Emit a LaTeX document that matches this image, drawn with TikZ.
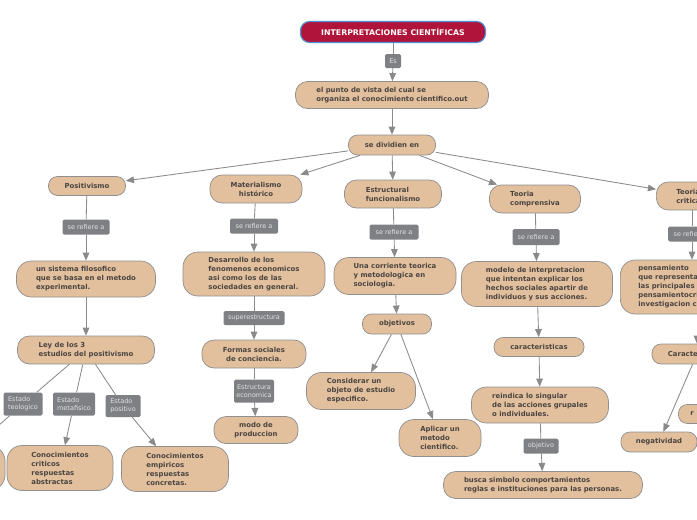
\documentclass[tikz,border=0pt]{standalone}
\usepackage{fontspec}
\setmainfont{DejaVu Sans}
\usepackage{tikz}
\usetikzlibrary{arrows, positioning, calc}

\definecolor{conceptfill}{HTML}{E2BF9D}
\definecolor{conceptline}{HTML}{8F8F8F}
\definecolor{concepttext}{HTML}{4A4541}
\definecolor{linkfill}{HTML}{7F8084}
\definecolor{linktext}{HTML}{E2E2E2}
\definecolor{connline}{HTML}{8A8A8A}
\definecolor{titlefill}{HTML}{B0143A}
\definecolor{titleline}{HTML}{4A90D9}

\newcommand{\conceptfont}{\fontsize{6.9}{9}\selectfont\bfseries}
\newcommand{\linkfont}{\fontsize{6.5}{8.4}\selectfont}
\newcommand{\headfont}{\fontsize{7.8}{9}\selectfont\bfseries}

\tikzset{
  concept/.style={draw=conceptline, fill=conceptfill, text=concepttext, font=\conceptfont, line width=0.7pt, rounded corners=9pt, align=left, inner sep=2pt},
  tall/.style={rounded corners=15pt},
  linklabel/.style={fill=linkfill, text=linktext, font=\linkfont, rounded corners=1.5pt, inner sep=1.5pt, align=left},
  headline/.style={draw=titleline, fill=titlefill, text=white, font=\headfont, line width=1.1pt, rounded corners=9pt},
  conn/.style={draw=connline, line width=0.85pt}
}

\begin{document}
\begin{tikzpicture}[x=1pt, y=-1pt, >=triangle 45]
  \useasboundingbox (0,0) rectangle (697,520);
  \clip (0,0) rectangle (697,520);

  \node[headline, minimum width=185, minimum height=21] (titulo) at (393,32) {INTERPRETACIONES CIENTÍFICAS};
  \node[linklabel, minimum width=16, minimum height=14, align=center] (es) at (393,61) {Es};
  \node[concept, minimum width=193, minimum height=27, rounded corners=12pt] (punto) at (392,95) {el punto de vista del cual se\\organiza el conocimiento cientifico.out};
  \node[concept, minimum width=87, minimum height=20, align=center] (divide) at (392,145) {se dividien en};

  \node[concept, minimum width=77, minimum height=19, align=center] (positivismo) at (87,186) {Positivismo};
  \node[concept, minimum width=92, minimum height=28, align=center, rounded corners=12pt] (materialismo) at (256,189) {Materialismo\\histórico};
  \node[concept, minimum width=97, minimum height=28, rounded corners=12pt] (estructural) at (393,194) {Estructural\\funcionalismo};
  \node[concept, minimum width=91, minimum height=28, rounded corners=12pt] (comprensiva) at (535,199) {Teoria\\comprensiva};
  \node[concept, anchor=west, minimum height=28, text width=40, inner xsep=20, rounded corners=12pt] (critica) at (656,196) {Teoria\\critica};

  \node[linklabel, minimum width=47, minimum height=15, align=center] (refpos) at (86,227) {se refiere a};
  \node[concept, tall, minimum width=139, minimum height=36] (sistema) at (86,279) {un sistema filosofico\\que se basa en el metodo\\experimental.};
  \node[concept, minimum width=137, minimum height=28, rounded corners=12pt] (ley) at (86,350) {Ley de los 3\\estudios del positivismo};
  \node[linklabel, minimum width=39, minimum height=23] (teologico) at (23,404) {Estado\\teologico};
  \node[linklabel, minimum width=42, minimum height=23] (metafisico) at (74,404) {Estado\\metafisico};
  \node[linklabel, minimum width=35, minimum height=22] (positivo) at (123,406) {Estado\\positivo};
  \node[concept, tall, minimum width=110, minimum height=44] (teologico2) at (-50,468) {};
  \node[concept, tall, minimum width=106, minimum height=45] (criticos) at (60,468) {Conocimientos\\criticos\\respuestas\\abstractas};
  \node[concept, tall, minimum width=107, minimum height=45] (empiricos) at (175,469) {Conocimientos\\empiricos\\respuestas\\concretas.};

  \node[linklabel, minimum width=48, minimum height=15, align=center] (refmat) at (254,226) {se refiere a};
  \node[concept, tall, minimum width=142, minimum height=44] (desarrollo) at (254,274) {Desarrollo de los\\fenomenos economicos\\asi como los de las\\sociedades en general.};
  \node[linklabel, minimum width=61, minimum height=14, align=center] (superestructura) at (254,318) {superestructura};
  \node[concept, minimum width=104, minimum height=28, align=center, rounded corners=12pt] (formas) at (254,354) {Formas sociales\\de conciencia.};
  \node[linklabel, minimum width=40, minimum height=23, align=center] (economica) at (254,391) {Estructura\\economica};
  \node[concept, minimum width=84, minimum height=27, align=center, rounded corners=12pt] (modo) at (256,430) {modo de\\produccion};

  \node[linklabel, minimum width=49, minimum height=15, align=center] (refest) at (394,232) {se refiere a};
  \node[concept, tall, minimum width=122, minimum height=37] (corriente) at (395,276) {Una corriente teorica\\y metodologica en\\sociologia.};
  \node[concept, minimum width=69, minimum height=20, align=center] (objetivos) at (397,324) {objetivos};
  \node[concept, tall, minimum width=109, minimum height=37] (considerar) at (361,391) {Considerar un\\objeto de estudio\\especifico.};
  \node[concept, tall, minimum width=82, minimum height=37] (aplicar) at (440,438) {Aplicar un\\metodo\\cientifico.};

  \node[linklabel, minimum width=47, minimum height=16, align=center] (refcom) at (536,237) {se refiere a};
  \node[concept, tall, minimum width=151, minimum height=45] (modelo) at (537,284) {modelo de interpretacion\\que intentan explicar los\\hechos sociales apartir de\\individuos y sus acciones.};
  \node[concept, minimum width=90, minimum height=19, align=center] (caracteristicas) at (539,347) {caracteristicas};
  \node[concept, tall, minimum width=137, minimum height=36] (reindica) at (540,405) {reindica lo singular\\de las acciones grupales\\o individuales.};
  \node[linklabel, minimum width=35, minimum height=15, align=center] (objetivo) at (541,446) {objetivo};
  \node[concept, minimum width=199, minimum height=27, rounded corners=12pt] (busca) at (543,485) {busca simbolo comportamientos\\reglas e instituciones para las personas.};

  \node[linklabel, minimum width=48, minimum height=15, align=center] (refcri) at (692,234) {se refiere a};
  \node[concept, tall, anchor=west, minimum height=54, text width=110, inner xsep=18] (pensamiento) at (620,287) {pensamiento\\que representa\\las principales\\pensamientocriticos\\investigacion critica};
  \node[concept, minimum width=90, minimum height=20, align=center] (caracteristicas2) at (697,354) {Caracteristicas};
  \node[concept, anchor=west, minimum height=19, text width=60, inner xsep=12] (rnode) at (678,414) {r};
  \node[concept, minimum width=76, minimum height=20, align=center] (negatividad) at (659,442) {negatividad};

  \draw[conn] (titulo) -- (es); \draw[conn,->] (es) -- (punto); \draw[conn,->] (punto) -- (divide);
  \draw[conn,->] (divide) -- (positivismo); \draw[conn,->] (divide) -- (materialismo); \draw[conn,->] (divide) -- (estructural); \draw[conn,->] (divide) -- (comprensiva); \draw[conn,->] (divide) -- (critica);

  \draw[conn] (positivismo) -- (refpos); \draw[conn,->] (refpos) -- (sistema); \draw[conn,->] (sistema) -- (ley);
  \draw[conn] (ley) -- (teologico); \draw[conn,->] (teologico) -- (teologico2);
  \draw[conn] (ley) -- (metafisico); \draw[conn,->] (metafisico) -- (criticos);
  \draw[conn] (ley) -- (positivo); \draw[conn,->] (positivo) -- (empiricos);

  \draw[conn] (materialismo) -- (refmat); \draw[conn,->] (refmat) -- (desarrollo);
  \draw[conn] (desarrollo) -- (superestructura); \draw[conn,->] (superestructura) -- (formas);
  \draw[conn] (formas) -- (economica); \draw[conn,->] (economica) -- (modo);

  \draw[conn] (estructural) -- (refest); \draw[conn,->] (refest) -- (corriente); \draw[conn,->] (corriente) -- (objetivos);
  \draw[conn,->] (objetivos) -- (considerar); \draw[conn,->] (objetivos) -- (aplicar);

  \draw[conn] (comprensiva) -- (refcom); \draw[conn,->] (refcom) -- (modelo); \draw[conn,->] (modelo) -- (caracteristicas);
  \draw[conn,->] (caracteristicas) -- (reindica); \draw[conn] (reindica) -- (objetivo); \draw[conn,->] (objetivo) -- (busca);

  \draw[conn] (critica.south -| refcri) -- (refcri); \draw[conn,->] (refcri) -- (refcri |- pensamiento.north); \draw[conn,->] (pensamiento.south -| caracteristicas2) -- (caracteristicas2);
  \draw[conn,->] (caracteristicas2) -- (negatividad);
\end{tikzpicture}
\end{document}
